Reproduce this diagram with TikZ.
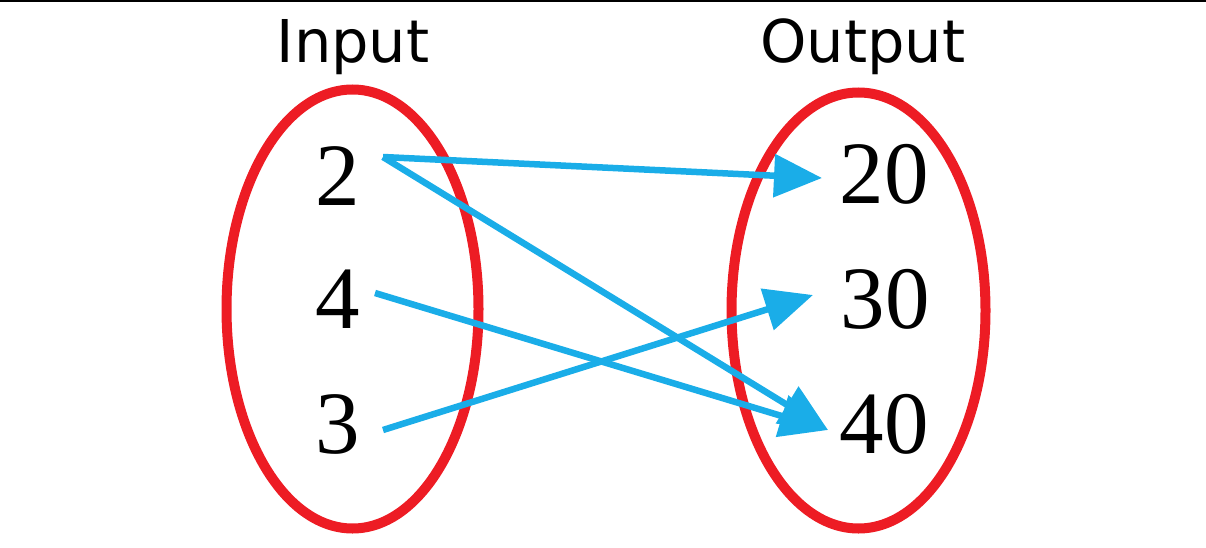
\documentclass[tikz,border=0pt]{standalone}
\usepackage{fontspec}
\setmainfont{Liberation Serif}
\newfontfamily\titlefont{DejaVu Sans}
\usetikzlibrary{arrows.meta}
\definecolor{ovalred}{HTML}{ED1C24}
\definecolor{arrowblue}{HTML}{1AADE8}
\tikzset{
  oval/.style={draw=ovalred, line width=10pt},
  num/.style={inner sep=0pt, anchor=base, font=\fontsize{89}{89}\selectfont},
  ttl/.style={inner sep=0pt, anchor=base, font=\titlefont\fontsize{59}{59}\selectfont},
  maparrow/.style={draw=arrowblue, line width=6.5pt, -{Triangle[length=48pt,width=42pt]}}
}
\begin{document}
\begin{tikzpicture}[x=1pt,y=-1pt]
\useasboundingbox (0,0) rectangle (1206,548);
\fill[black] (0,0) rectangle (1206,2.5);
\node[ttl] (tin) at (353,63) {Input};
\node[ttl] (tout) at (863,63) {Output};
\draw[oval] (352.5,309) ellipse [x radius=126, y radius=219.5];
\draw[oval] (858.5,310.5) ellipse [x radius=127, y radius=218];
\node[num] (i2) at (338,205) {2};
\node[num] (i4) at (338,328) {4};
\node[num] (i3) at (338,453) {3};
\node[num] (o20) at (884,203) {20};
\node[num] (o30) at (885,328) {30};
\node[num] (o40) at (884,453) {40};
\coordinate (s2) at (383,157);
\coordinate (s4) at (375,293);
\coordinate (s3) at (383,430);
\coordinate (t20) at (822,178);
\coordinate (t30) at (813,295);
\coordinate (t40) at (828,430);
\draw[maparrow] (s2) -- (t20);
\draw[maparrow] (s2) -- (t40);
\draw[maparrow] (s4) -- (t40);
\draw[maparrow] (s3) -- (t30);
\end{tikzpicture}
\end{document}
